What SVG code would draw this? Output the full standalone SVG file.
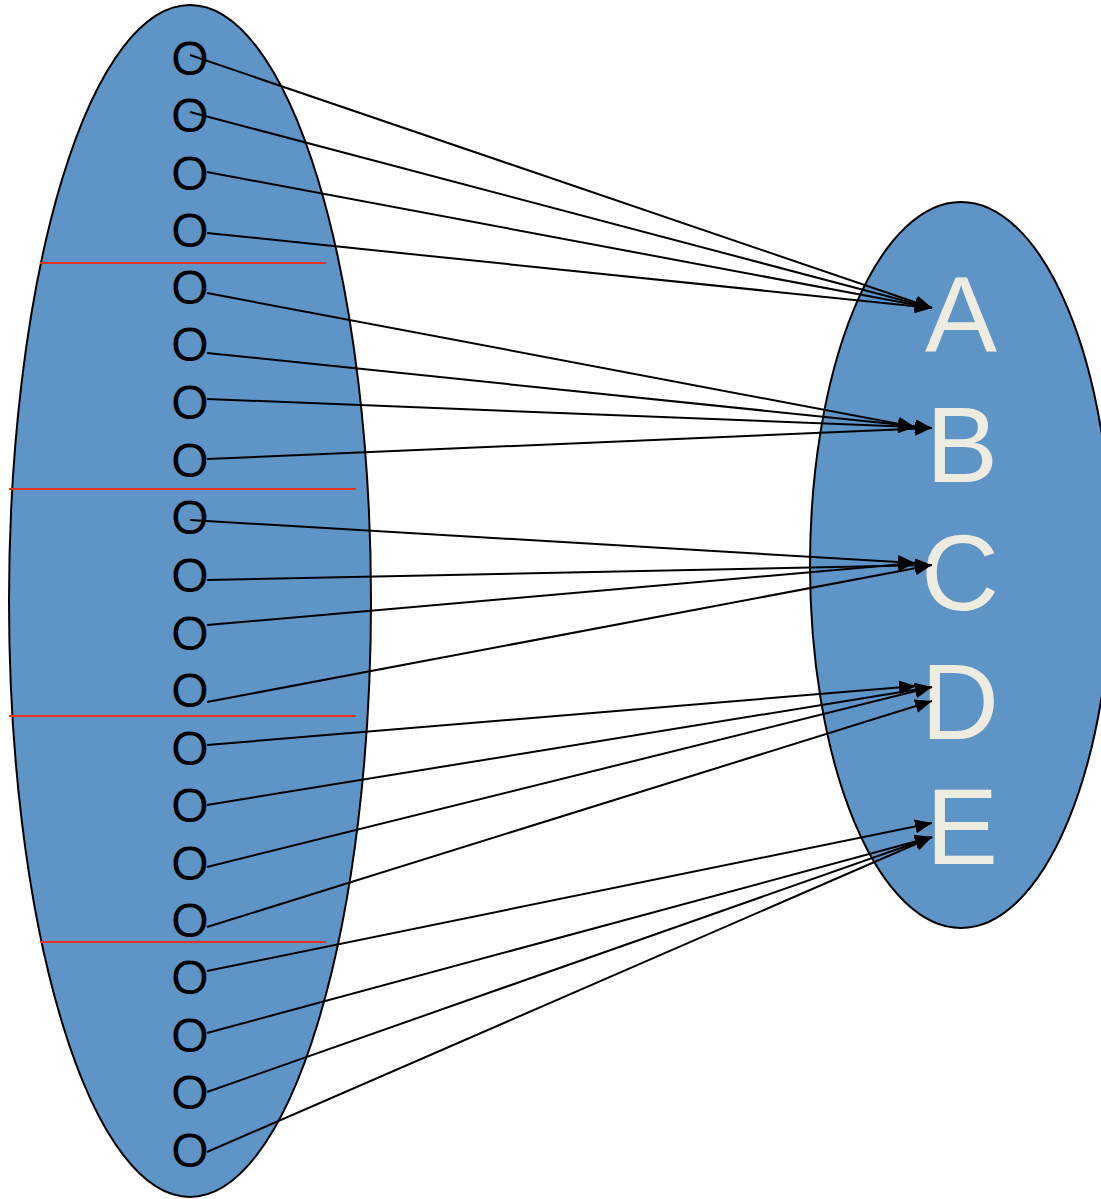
<svg xmlns="http://www.w3.org/2000/svg" width="1101" height="1199" viewBox="0 0 1101 1199">
  <style>
    .set { fill: #5F94C7; stroke: #000; stroke-width: 2; }
    .item { font-family: "Liberation Sans", Arial, sans-serif; font-size: 48px; fill: #000; text-anchor: middle; }
    .target { font-family: "Liberation Sans", Arial, sans-serif; font-size: 108px; fill: #EEEBE0; text-anchor: middle; }
    .divider { stroke: #E8321E; stroke-width: 2; }
    .map { stroke: #000; stroke-width: 2; fill: none; marker-end: url(#head); }
  </style>
  <defs>
    <marker id="head" markerUnits="userSpaceOnUse" markerWidth="18" markerHeight="14" refX="17" refY="7" orient="auto">
      <path d="M0,0 L17,7 L0,14 z" fill="#000"/>
    </marker>
  </defs>

  <!-- domain set -->
  <g id="domain">
    <ellipse class="set" cx="190" cy="601" rx="181" ry="596"/>
    <line class="divider" x1="40" y1="263" x2="326" y2="263"/>
    <line class="divider" x1="9" y1="489" x2="356" y2="489"/>
    <line class="divider" x1="9" y1="716" x2="356" y2="716"/>
    <line class="divider" x1="40" y1="942" x2="326" y2="942"/>
  </g>

  <!-- codomain set -->
  <g id="codomain">
    <ellipse class="set" cx="961" cy="565" rx="151" ry="363"/>
  </g>

  <!-- domain elements -->
  <g id="elements">
    <text class="item" x="190" y="75">O</text>
    <text class="item" x="190" y="132">O</text>
    <text class="item" x="190" y="190">O</text>
    <text class="item" x="190" y="247">O</text>
    <text class="item" x="190" y="304">O</text>
    <text class="item" x="190" y="361">O</text>
    <text class="item" x="190" y="419">O</text>
    <text class="item" x="190" y="477">O</text>
    <text class="item" x="190" y="534">O</text>
    <text class="item" x="190" y="592">O</text>
    <text class="item" x="190" y="650">O</text>
    <text class="item" x="190" y="707">O</text>
    <text class="item" x="190" y="765">O</text>
    <text class="item" x="190" y="822">O</text>
    <text class="item" x="190" y="880">O</text>
    <text class="item" x="190" y="937">O</text>
    <text class="item" x="190" y="994">O</text>
    <text class="item" x="190" y="1052">O</text>
    <text class="item" x="190" y="1109">O</text>
    <text class="item" x="190" y="1167">O</text>
  </g>

  <!-- codomain labels -->
  <g id="node-A"><text class="target" x="961" y="352">A</text></g>
  <g id="node-B"><text class="target" x="962" y="482">B</text></g>
  <g id="node-C"><text class="target" x="960" y="610">C</text></g>
  <g id="node-D"><text class="target" x="960" y="739">D</text></g>
  <g id="node-E"><text class="target" x="962" y="864">E</text></g>

  <!-- mapping arrows -->
  <g id="connectors">
    <line class="map" x1="190" y1="55" x2="932" y2="308"/>
    <line class="map" x1="190" y1="112" x2="932" y2="308"/>
    <line class="map" x1="207" y1="172" x2="932" y2="308"/>
    <line class="map" x1="207" y1="233" x2="932" y2="308"/>

    <line class="map" x1="207" y1="293" x2="915" y2="427"/>
    <line class="map" x1="207" y1="353" x2="932" y2="428"/>
    <line class="map" x1="207" y1="399" x2="915" y2="427"/>
    <line class="map" x1="207" y1="459" x2="932" y2="428"/>

    <line class="map" x1="190" y1="520" x2="915" y2="563"/>
    <line class="map" x1="207" y1="580" x2="932" y2="565"/>
    <line class="map" x1="207" y1="625" x2="915" y2="563"/>
    <line class="map" x1="207" y1="702" x2="932" y2="565"/>

    <line class="map" x1="207" y1="745" x2="916" y2="686"/>
    <line class="map" x1="207" y1="805" x2="932" y2="687"/>
    <line class="map" x1="207" y1="867" x2="932" y2="687"/>
    <line class="map" x1="207" y1="927" x2="932" y2="701"/>

    <line class="map" x1="207" y1="971" x2="932" y2="823"/>
    <line class="map" x1="207" y1="1033" x2="932" y2="837"/>
    <line class="map" x1="207" y1="1092" x2="932" y2="837"/>
    <line class="map" x1="207" y1="1152" x2="932" y2="837"/>
  </g>
</svg>
